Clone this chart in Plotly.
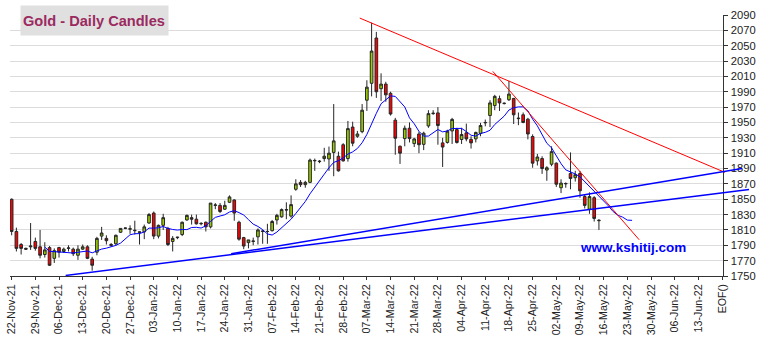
import pandas as pd
import plotly.graph_objects as go

# ---- daily gold candles (one row per weekday session) ----
first_session = "2021-11-22"

opens = [1850, 1808, 1791, 1786, 1788, 1795, 1788, 1778, 1787, 1773,
         1787, 1782, 1786, 1785, 1777, 1785, 1788, 1772, 1781, 1802,
         1799, 1791, 1792, 1807, 1812, 1811, 1809, 1807.5, 1807.5, 1819,
         1832, 1802, 1816, 1812, 1795, 1800, 1804, 1823, 1826, 1824,
         1818, 1820, 1814, 1842, 1842, 1837, 1846, 1849, 1820, 1800,
         1793.5, 1795, 1801, 1808, 1808, 1809, 1823, 1827, 1836.5, 1828,
         1863, 1872, 1869, 1872, 1900, 1899, 1903, 1902.5, 1911, 1906,
         1921, 1903, 1944, 1932, 1938, 1979, 2001, 2060, 1994, 2000,
         1988, 1953, 1919, 1929, 1942.5, 1922.5, 1935, 1921.5, 1945.5, 1961.5,
         1962.5, 1923.4, 1924, 1939, 1940.7, 1927.8, 1936.5, 1928, 1928.6, 1935.6,
         1949.5, 1959, 1972, 1981, 1974.6, 1979.6, 1981.3, 1955, 1960, 1954.3,
         1931.7, 1900, 1903, 1888, 1895.6, 1897, 1865, 1870, 1883.5, 1878,
         1883.5, 1853.5, 1837, 1852, 1822]
highs = [1851, 1813, 1793, 1787, 1819, 1800, 1810, 1794, 1789, 1786,
         1788, 1787, 1790, 1787, 1790, 1791, 1790, 1775, 1801, 1814,
         1803, 1793, 1804, 1812, 1813, 1816, 1822, 1808, 1817, 1832,
         1834, 1817, 1831, 1814, 1802, 1801, 1821, 1830, 1830, 1830,
         1820, 1821, 1845, 1845, 1845, 1848, 1855, 1850, 1822, 1801,
         1797, 1800, 1812, 1810, 1818, 1823, 1831, 1838, 1846, 1855,
         1876, 1875, 1874, 1903, 1903, 1901, 1917, 1918.6, 1974, 1912,
         1923, 1952, 1951, 1939, 1974, 2005, 2080, 2068, 2014, 2003,
         1990, 1956, 1920, 1946, 1950, 1930, 1938, 1938, 1966, 1966,
         1970, 1930, 1940.5, 1956, 1943, 1943, 1948.5, 1932, 1938, 1949.5,
         1953.8, 1979, 1986, 1985, 1976, 2004.3, 1982, 1963, 1963, 1956,
         1934.5, 1909, 1906, 1893, 1919, 1898, 1876, 1872, 1911, 1887,
         1887, 1856, 1859, 1854, 1824]
lows = [1803, 1782, 1778, 1784, 1784, 1783, 1773, 1774, 1763, 1767,
        1774, 1780, 1782, 1776, 1771, 1784, 1772, 1757, 1777, 1797,
        1791, 1788, 1790, 1806, 1811, 1805, 1804, 1791, 1798, 1818,
        1798, 1799, 1810, 1789, 1782, 1798, 1802, 1822, 1817, 1817,
        1816, 1808, 1812, 1837, 1832, 1836, 1845, 1822, 1796, 1785,
        1786, 1790, 1791, 1792, 1792, 1808, 1817, 1826, 1824, 1826,
        1861, 1866, 1865, 1871, 1887, 1897, 1899, 1887, 1880, 1886,
        1899, 1899, 1919, 1930, 1936, 1965, 1984, 1982, 1978, 1977,
        1959, 1908, 1896, 1919, 1924, 1918, 1910, 1914, 1943, 1960,
        1921, 1892, 1922.5, 1922, 1922.5, 1922, 1925.5, 1916, 1924, 1932,
        1945, 1944, 1966, 1965, 1973.5, 1978, 1948, 1946.5, 1949, 1928,
        1891, 1894, 1883, 1874, 1893, 1866, 1858, 1865, 1863, 1873,
        1852, 1838, 1831, 1821, 1810]
closes = [1808, 1786, 1786, 1785, 1789, 1786, 1777, 1784, 1764, 1783,
          1781, 1785, 1786.5, 1779, 1785, 1788, 1773, 1764, 1799, 1806,
          1796, 1790, 1803, 1812, 1812.5, 1811.5, 1809.5, 1807, 1814, 1830,
          1802, 1816, 1826, 1791, 1799, 1800.5, 1820, 1829, 1824, 1818,
          1818.5, 1814, 1845, 1842.5, 1834, 1842, 1853, 1832, 1798, 1789,
          1797, 1795.5, 1810, 1808.5, 1808, 1821, 1829, 1836.5, 1836, 1843,
          1870, 1869, 1872, 1901, 1900.5, 1899.5, 1906, 1910, 1926, 1887,
          1900, 1942, 1923, 1935, 1966, 1996, 2043, 1990, 2000, 1986,
          1961, 1929.5, 1910, 1942.5, 1929, 1928.6, 1921, 1936, 1961.5, 1962,
          1946, 1918, 1938.6, 1954, 1924, 1934.3, 1928.6, 1923.4, 1937, 1946,
          1950, 1975.5, 1984, 1975.5, 1975, 1987, 1960, 1955.5, 1950, 1935,
          1897, 1905, 1890, 1891, 1912, 1869.6, 1871, 1870.5, 1877, 1882,
          1861, 1842, 1853.5, 1825, 1822.5]

# weekly axis labels (Mondays) and the end-of-file marker
tick_labels = ["22-Nov-21", "29-Nov-21", "06-Dec-21", "13-Dec-21", "20-Dec-21",
               "27-Dec-21", "03-Jan-22", "10-Jan-22", "17-Jan-22", "24-Jan-22",
               "31-Jan-22", "07-Feb-22", "14-Feb-22", "21-Feb-22", "28-Feb-22",
               "07-Mar-22", "14-Mar-22", "21-Mar-22", "28-Mar-22", "04-Apr-22",
               "11-Apr-22", "18-Apr-22", "25-Apr-22", "02-May-22", "09-May-22",
               "16-May-22", "23-May-22", "30-May-22", "06-Jun-22", "13-Jun-22",
               "EOF()"]

# trend lines: anchor points as (session number, price)
red_slow_x, red_slow_y = [73.5, 150.6], [2086, 1885]
red_fast_x, red_fast_y = [101.6, 132.5], [2016.5, 1797.2]
blue_upper_x, blue_upper_y = [46.35, 154.2], [1779, 1890]
blue_lower_x, blue_lower_y = [11.4, 155.7], [1750.7, 1862.8]

MA_PERIOD = 8
PROJECTION = 7

# ---- derived series ----
n = len(closes)
bars = list(range(n))
dates = pd.bdate_range(first_session, periods=n)
hover = [d.strftime("%d-%b-%y") for d in dates]

# moving average, carried forward with the last close held flat
ext_close = pd.Series(closes + [closes[-1]] * PROJECTION)
ma = ext_close.rolling(MA_PERIOD).mean()
ma_x = list(range(len(ext_close)))

tick_vals = list(range(0, 5 * len(tick_labels), 5))

# ---- geometry of the page ----
W, H = 763, 344
m_l, m_r, m_t, m_b = 5, 11, 15.3, 67.7
plot_w = W - m_l - m_r
axis_right_px = 723.3
dom_main = (axis_right_px - m_l) / plot_w
x_range = [-0.35, 150.3]
x2_range = [x_range[0], x_range[0] + (x_range[1] - x_range[0]) / dom_main]
y_range = [1750, 2090]

FONT = "Liberation Sans, Arial, sans-serif"
EDGE = "#262626"

fig = go.Figure()

fig.add_trace(go.Candlestick(
    x=bars, open=opens, high=highs, low=lows, close=closes,
    text=hover, hoverinfo="text+y",
    increasing=dict(fillcolor="#99cc00", line=dict(color=EDGE, width=1)),
    decreasing=dict(fillcolor="#ff0000", line=dict(color=EDGE, width=1)),
    whiskerwidth=0, showlegend=False,
))

fig.add_trace(go.Scatter(
    x=ma_x, y=ma, mode="lines", line=dict(color="#0000ff", width=1),
    showlegend=False, hoverinfo="skip",
))

for xs, ys, col, wd in [
    (red_slow_x, red_slow_y, "#ff0000", 1),
    (red_fast_x, red_fast_y, "#ff0000", 1),
    (blue_upper_x, blue_upper_y, "#0000ff", 1.5),
    (blue_lower_x, blue_lower_y, "#0000ff", 1.5),
]:
    fig.add_trace(go.Scatter(
        x=xs, y=ys, mode="lines", line=dict(color=col, width=wd),
        xaxis="x2", yaxis="y2", showlegend=False, hoverinfo="skip",
    ))

fig.update_layout(
    width=W, height=H,
    margin=dict(l=m_l, r=m_r, t=m_t, b=m_b, pad=0),
    paper_bgcolor="white", plot_bgcolor="rgba(0,0,0,0)",
    font=dict(family=FONT, size=11, color="#222222"),
    boxgap=0.2,
    xaxis=dict(
        domain=[0, dom_main], range=x_range,
        tickmode="array", tickvals=tick_vals, ticktext=tick_labels,
        tickangle=-90, tickfont=dict(size=10.7, color="#222222"),
        showgrid=False, zeroline=False,
        showline=True, linecolor="#333333", linewidth=1,
        ticks="outside", ticklen=3, tickcolor="#333333",
        rangeslider=dict(visible=False), fixedrange=True,
    ),
    yaxis=dict(
        domain=[0, 1], range=y_range, side="right", anchor="x",
        tickmode="linear", tick0=1750, dtick=20,
        tickfont=dict(size=11.2, color="#222222"),
        showgrid=True, gridcolor="#dcdcdc", gridwidth=1, zeroline=False,
        showline=True, linecolor="#333333", linewidth=1,
        ticks="outside", ticklen=4, tickcolor="#333333",
        fixedrange=True,
    ),
    xaxis2=dict(domain=[0, 1], range=x2_range, visible=False,
                anchor="y2", fixedrange=True),
    yaxis2=dict(domain=[0, 1], range=y_range, visible=False,
                anchor="x2", fixedrange=True),
    hovermode="closest",
)

# chart caption in a grey box
fig.add_annotation(
    text="<b>Gold - Daily Candles</b>",
    xref="paper", yref="paper",
    x=(15 - m_l) / plot_w, y=(H - m_b - 5) / (H - m_t - m_b),
    xanchor="left", yanchor="top",
    width=143, height=25, borderpad=2, align="left", valign="middle",
    bgcolor="#e0e0e0", showarrow=False,
    font=dict(family=FONT, size=14.6, color="#9b2a60"),
)

# site credit
fig.add_annotation(
    text="<b>www.kshitij.com</b>",
    xref="paper", yref="paper",
    x=(577 - m_l) / plot_w, y=(H - m_b - 248) / (H - m_t - m_b),
    xanchor="left", yanchor="middle", showarrow=False,
    font=dict(family=FONT, size=13.5, color="#0000ff"),
)

fig.write_html("out.html", config={"displayModeBar": False})
